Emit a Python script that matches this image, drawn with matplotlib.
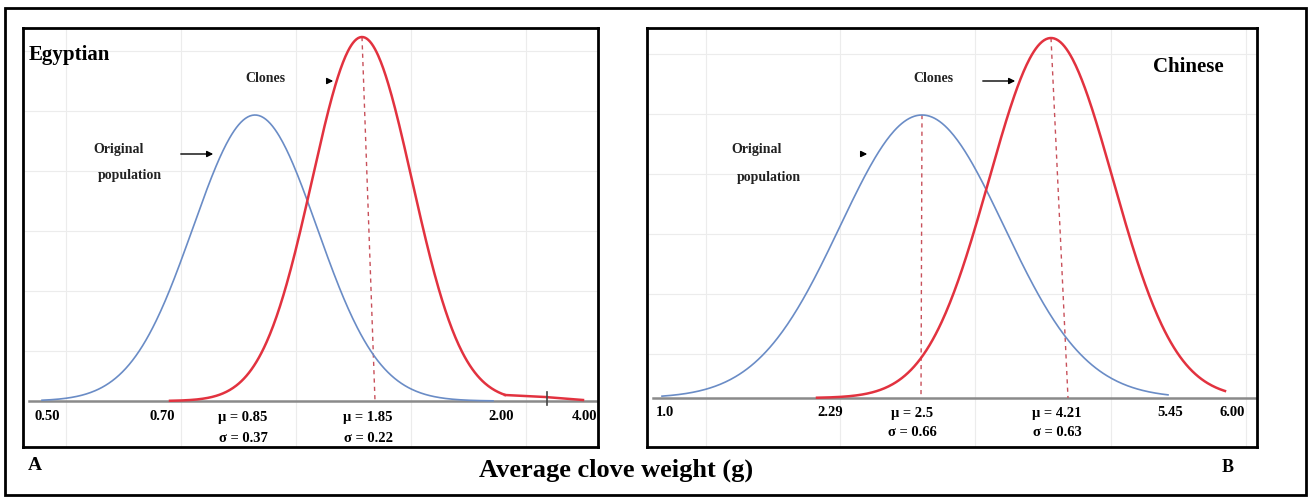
import matplotlib

matplotlib.use("Agg")
import matplotlib.pyplot as plt
import numpy as np
from matplotlib.patches import Rectangle

plt.rcParams["font.family"] = ["Liberation Serif", "DejaVu Serif"]
plt.rcParams["font.weight"] = "bold"

W, H = 1309, 497

# Axis positions are read off the (non-linear) printed axis, in picture columns.
# Heights are measured upwards from the baseline.

# Panel A: Egyptian
egy_tick_pos = [47, 162, 243, 368, 501, 584]
egy_tick_labels = ["0.50", "0.70", "μ = 0.85", "μ = 1.85", "2.00", "4.00"]
egy_sigma_pos = [243, 368]
egy_sigma_labels = ["σ = 0.37", "σ = 0.22"]
egy_orig = {"center": 255, "spread": 62, "peak": 286, "start": 42, "end": 493}
egy_clone = {"center": 362, "spread": 50, "peak": 364, "start": 170, "end": 505}
egy_clone_tail_x = [505, 545, 583]
egy_clone_tail_y = [6, 4, 1]
egy_clone_dash_foot = 375

# Panel B: Chinese
chn_tick_pos = [665, 830, 912, 1057, 1170, 1232]
chn_tick_labels = ["1.0", "2.29", "μ = 2.5", "μ = 4.21", "5.45", "6.00"]
chn_sigma_pos = [912, 1057]
chn_sigma_labels = ["σ = 0.66", "σ = 0.63"]
chn_orig = {"center": 922, "spread": 82, "peak": 283, "start": 662, "end": 1168}
chn_clone = {"center": 1051, "spread": 62, "peak": 360, "start": 817, "end": 1225}
chn_orig_dash_foot = 921
chn_clone_dash_foot = 1068

BLUE = "#6a8cc6"
RED = "#e2323f"
DASH = "#c8505a"


def normal_curve(c):
    x = np.linspace(c["start"], c["end"], 400)
    y = c["peak"] * np.exp(-0.5 * ((x - c["center"]) / c["spread"]) ** 2)
    return x, y


def make_panel(left, right, top, bottom, base):
    ax = fig.add_axes([left / W, 1 - bottom / H, (right - left) / W, (bottom - top) / H])
    ax.set_xlim(left, right)
    ax.set_ylim(base - bottom, base - top)
    for sp in ax.spines.values():
        sp.set_linewidth(2)
        sp.set_color("black")
    ax.tick_params(length=0, labelbottom=False, labelleft=False)
    ax.grid(True, color="#ececec", linewidth=0.8)
    ax.set_axisbelow(True)
    ax.axhline(0, color="#8a8a8a", linewidth=1.8, xmin=0.01, zorder=1)
    return ax


fig = plt.figure(figsize=(W / 100, H / 100), dpi=100)
fig.patches.append(
    Rectangle((5 / W, 1 - 495 / H), 1301 / W, 487 / H, transform=fig.transFigure,
              fill=False, edgecolor="black", linewidth=2)
)

# ---- Panel A
ax = make_panel(23, 598, 28, 447, 401)
ax.set_xticks([66, 181, 296, 411, 526])
ax.set_yticks([50, 110, 170, 230, 290, 350])
x, y = normal_curve(egy_orig)
ax.plot(x, y, color=BLUE, linewidth=1.2, zorder=3)
x, y = normal_curve(egy_clone)
ax.plot(x, y, color=RED, linewidth=1.8, zorder=3)
ax.plot(egy_clone_tail_x, egy_clone_tail_y, color=RED, linewidth=1.8, zorder=3)
ax.plot([547, 547], [-4, 9], color="#444444", linewidth=1.2, zorder=4)
ax.plot([egy_clone["center"], egy_clone_dash_foot], [egy_clone["peak"], 0],
        color=DASH, linewidth=1, linestyle=(0, (3, 3)), zorder=2)
for p, t in zip(egy_tick_pos, egy_tick_labels):
    ax.text(p, -16, t, ha="center", va="center", fontsize=10.5)
for p, t in zip(egy_sigma_pos, egy_sigma_labels):
    ax.text(p, -37, t, ha="center", va="center", fontsize=10.5)
ax.text(69, 346, "Egyptian", ha="center", va="center", fontsize=15)
ax.text(265, 322, "Clones", ha="center", va="center", fontsize=10, color="#222222")
ax.text(119, 251, "Original", ha="center", va="center", fontsize=10, color="#222222")
ax.text(130, 225, "population", ha="center", va="center", fontsize=10, color="#222222")
ax.annotate("", xy=(216, 247), xytext=(178, 247),
            arrowprops=dict(arrowstyle="-|>", color="black", lw=1, mutation_scale=9))
ax.annotate("", xy=(336, 320), xytext=(326, 320),
            arrowprops=dict(arrowstyle="-|>", color="black", lw=1, mutation_scale=9))

# ---- Panel B
ax = make_panel(647, 1257, 28, 447, 398)
ax.set_xticks([706, 840, 975, 1111, 1246])
ax.set_yticks([44, 104, 164, 224, 284, 344])
x, y = normal_curve(chn_orig)
ax.plot(x, y, color=BLUE, linewidth=1.2, zorder=3)
x, y = normal_curve(chn_clone)
ax.plot(x, y, color=RED, linewidth=1.8, zorder=3)
ax.plot([chn_orig["center"], chn_orig_dash_foot], [chn_orig["peak"], 0],
        color=DASH, linewidth=1, linestyle=(0, (3, 3)), zorder=2)
ax.plot([chn_clone["center"], chn_clone_dash_foot], [chn_clone["peak"], 0],
        color=DASH, linewidth=1, linestyle=(0, (3, 3)), zorder=2)
for p, t in zip(chn_tick_pos, chn_tick_labels):
    ax.text(p, -15, t, ha="center", va="center", fontsize=10.5)
for p, t in zip(chn_sigma_pos, chn_sigma_labels):
    ax.text(p, -34, t, ha="center", va="center", fontsize=10.5)
ax.text(1188, 331, "Chinese", ha="center", va="center", fontsize=15)
ax.text(933, 319, "Clones", ha="center", va="center", fontsize=10, color="#222222")
ax.text(757, 248, "Original", ha="center", va="center", fontsize=10, color="#222222")
ax.text(769, 221, "population", ha="center", va="center", fontsize=10, color="#222222")
ax.annotate("", xy=(870, 244), xytext=(861, 244),
            arrowprops=dict(arrowstyle="-|>", color="black", lw=1, mutation_scale=9))
ax.annotate("", xy=(1018, 317), xytext=(980, 317),
            arrowprops=dict(arrowstyle="-|>", color="black", lw=1, mutation_scale=9))

# ---- figure labels
fig.text(35 / W, 1 - 465 / H, "A", ha="center", va="center", fontsize=14)
fig.text(616 / W, 1 - 470 / H, "Average clove weight (g)", ha="center", va="center", fontsize=19)
fig.text(1228 / W, 1 - 468 / H, "B", ha="center", va="center", fontsize=13)

fig.savefig("out.png", dpi=100)
